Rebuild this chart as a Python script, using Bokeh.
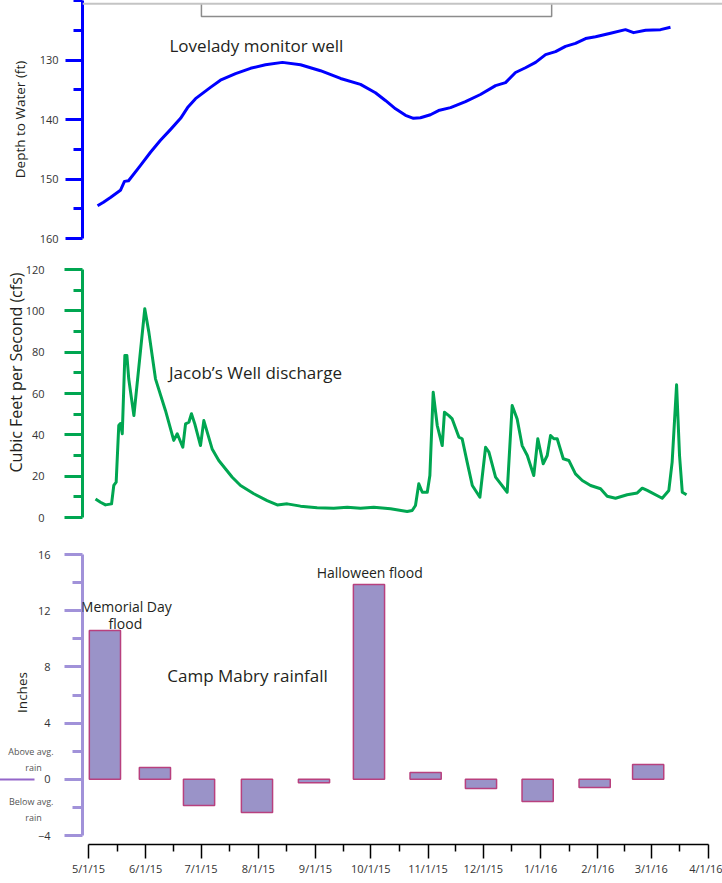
import pandas as pd
from bokeh.plotting import figure
from bokeh.layouts import column
from bokeh.models import Range1d, FixedTicker, Label, ColumnDataSource, LinearAxis, Title, Span
from bokeh.embed import file_html
from bokeh.resources import INLINE

# ---------------- data ----------------
START = pd.Timestamp("2015-05-01")
month_dates = ["2015-05-01", "2015-06-01", "2015-07-01", "2015-08-01", "2015-09-01", "2015-10-01",
               "2015-11-01", "2015-12-01", "2016-01-01", "2016-02-01", "2016-03-01", "2016-04-01"]
month_labels = ["5/1/15", "6/1/15", "7/1/15", "8/1/15", "9/1/15", "10/1/15",
                "11/1/15", "12/1/15", "1/1/16", "2/1/16", "3/1/16", "4/1/16"]

# Lovelady monitor well: days since 5/1/15, depth to water (ft)
well_day = [4.9, 8.1, 11.9, 17.3, 19.5, 21.7, 28.2, 33.6, 39.0, 44.4,
            49.9, 53.7, 58.0, 66.1, 71.5, 79.7, 87.8, 95.9, 105.1, 114.9,
            125.7, 136.6, 147.4, 155.5, 160.9, 166.4, 171.8, 176.1, 179.9, 185.3,
            189.7, 196.2, 204.3, 212.4, 220.6, 226.0, 231.4, 236.8, 242.3, 247.7,
            253.1, 258.5, 263.9, 269.4, 274.8, 282.9, 291.0, 295.4, 301.9, 310.0, 315.4]
well_depth = [154.5, 153.9, 153.1, 151.9, 150.4, 150.3, 147.7, 145.5, 143.5, 141.7,
              139.8, 138.0, 136.5, 134.6, 133.4, 132.3, 131.4, 130.8, 130.4, 130.8,
              131.8, 133.1, 134.1, 135.5, 136.8, 138.2, 139.3, 139.8, 139.7, 139.2,
              138.5, 138.0, 137.0, 135.8, 134.3, 133.8, 132.1, 131.3, 130.4, 129.1,
              128.6, 127.7, 127.2, 126.4, 126.1, 125.5, 124.9, 125.4, 125.0, 124.9, 124.5]

# Jacob's Well discharge: days since 5/1/15, cfs
flow_day = [3.8, 6.5, 9.2, 12.5, 13.7, 15.0, 16.4, 17.3, 18.3, 19.7,
            20.8, 21.8, 24.6, 30.5, 32.7, 36.3, 41.7, 46.2, 48.1, 51.1,
            52.6, 54.4, 55.8, 57.6, 60.7, 62.5, 67.0, 70.6, 77.9, 82.4,
            89.6, 96.8, 102.3, 107.7, 114.9, 123.9, 132.9, 140.2, 147.4, 154.6,
            163.7, 172.7, 175.4, 177.2, 179.0, 180.9, 183.6, 185.0, 186.8, 189.0,
            191.7, 192.9, 195.3, 197.1, 200.7, 202.5, 205.2, 208.0, 212.1, 215.2,
            217.0, 220.6, 226.9, 229.6, 232.3, 235.0, 237.8, 241.3, 243.5, 246.4,
            248.6, 250.4, 252.2, 254.0, 257.3, 260.3, 263.9, 267.6, 272.1, 277.5,
            281.1, 285.6, 291.9, 297.4, 300.1, 302.8, 310.9, 314.5, 316.3, 318.7,
            320.3, 321.8, 324.1]
flow_cfs = [9.0, 7.4, 6.1, 6.6, 15.5, 17.1, 44.5, 45.5, 40.5, 78.4,
            78.4, 67.1, 49.3, 101.0, 89.7, 67.1, 51.8, 37.3, 40.5, 34.0,
            45.3, 46.1, 50.2, 45.3, 34.8, 46.9, 33.2, 27.6, 19.5, 15.5,
            11.5, 8.2, 6.1, 6.6, 5.5, 4.7, 4.5, 5.0, 4.5, 5.0,
            4.2, 2.9, 3.4, 5.8, 16.3, 12.2, 12.2, 20.3, 60.6, 44.5,
            34.8, 50.9, 49.3, 47.7, 38.9, 38.1, 26.8, 15.5, 9.8, 34.0,
            31.6, 19.5, 12.2, 54.2, 47.7, 34.8, 30.0, 20.3, 38.1, 26.0,
            30.0, 39.7, 38.1, 38.1, 28.4, 27.6, 21.1, 17.9, 15.5, 13.9,
            10.3, 9.3, 11.0, 11.9, 14.2, 13.1, 9.3, 13.1, 26.8, 64.2,
            30.0, 12.2, 11.0]

# Camp Mabry monthly rainfall departure from average (inches)
rain_month = ["May", "Jun", "Jul", "Aug", "Sep", "Oct", "Nov", "Dec", "Jan", "Feb", "Mar"]
rain_day = [8.9, 36.0, 59.9, 91.3, 122.2, 152.0, 182.7, 212.7, 243.4, 274.3, 303.3]
rain_anomaly = [10.59, 0.84, -1.86, -2.36, -0.25, 13.86, 0.48, -0.65, -1.58, -0.58, 1.05]

# ---------------- layout helpers ----------------
month_day = [(pd.Timestamp(d) - START).days for d in month_dates]
mid_day = [(a + b) / 2 for a, b in zip(month_day[:-1], month_day[1:])]

PX_PER_DAY = 620 / 336.0
X0_PAGE = 88.0
RIGHT_PAGE = 722.0
FRAME_LEFT = 82
W = 722
FONT = "Open Sans"
TXT = "#231f20"


def xr():
    return Range1d((FRAME_LEFT - X0_PAGE) / PX_PER_DAY, (RIGHT_PAGE - X0_PAGE) / PX_PER_DAY)


def base(fig):
    fig.xgrid.visible = False
    fig.ygrid.visible = False
    fig.outline_line_color = None
    fig.background_fill_color = "white"
    fig.border_fill_color = "white"


def style_y(ax, color, tick_out, minor_out, standoff, label_standoff):
    ax.axis_line_color = color
    ax.axis_line_width = 3
    ax.major_tick_line_color = color
    ax.major_tick_line_width = 3
    ax.minor_tick_line_color = color
    ax.minor_tick_line_width = 3
    ax.major_tick_in = 0
    ax.minor_tick_in = 0
    ax.major_tick_out = tick_out
    ax.minor_tick_out = minor_out
    ax.major_label_standoff = standoff
    ax.major_label_text_font = FONT
    ax.major_label_text_font_size = "11px"
    ax.major_label_text_color = "#333333"
    ax.axis_label_standoff = label_standoff
    ax.axis_label_text_font = FONT
    ax.axis_label_text_font_size = "13.5px"
    ax.axis_label_text_font_style = "normal"
    ax.axis_label_text_color = TXT


def note(fig, x, y, text, size):
    fig.add_layout(Label(x=x, y=y, text=text, text_align="center", text_baseline="middle",
                         text_font=FONT, text_font_size=size, text_color=TXT))


# ---------------- top: Lovelady monitor well ----------------
k1 = 5.95  # px per ft
p1 = figure(width=W, height=255, x_range=xr(), y_range=Range1d(160, 160 - 238 / k1),
            x_axis_location=None, toolbar_location=None, output_backend="svg",
            min_border_left=FRAME_LEFT, min_border_right=0, min_border_top=0, min_border_bottom=17)
base(p1)
ax1 = p1.yaxis[0]
ax1.ticker = FixedTicker(ticks=[130, 140, 150, 160], minor_ticks=[120, 125, 135, 145, 155])
ax1.axis_label = "Depth to Water (ft)"
style_y(ax1, "#0000ff", 17, 9, 7, 8)

p1.add_layout(Span(location=120 + 3.3 / k1, dimension="width", line_color="#c4c4c4", line_width=2))
bracket_x = [61.2, 61.2, 251.0, 251.0]
bracket_y = [120.5, 122.7, 122.7, 120.5]
p1.line(bracket_x, bracket_y, line_color="#8c8c8c", line_width=1.5)
p1.line(well_day, well_depth, line_color="#0000ff", line_width=3, line_join="round")
note(p1, 91, 127.6, "Lovelady monitor well", "17px")

# ---------------- middle: Jacob's Well discharge ----------------
k2 = 248 / 120.0  # px per cfs
p2 = figure(width=W, height=285, x_range=xr(), y_range=Range1d(-23 / k2, 120 + 14 / k2),
            x_axis_location=None, toolbar_location=None, output_backend="svg",
            min_border_left=FRAME_LEFT, min_border_right=0, min_border_top=0, min_border_bottom=0)
base(p2)
ax2 = p2.yaxis[0]
ax2.ticker = FixedTicker(ticks=[0, 20, 40, 60, 80, 100, 120], minor_ticks=[10, 30, 50, 70, 90, 110])
ax2.bounds = (0, 120)
style_y(ax2, "#00a651", 18, 9, 20, 0)
p2.add_layout(Title(text="Cubic Feet per Second (cfs)", align="right", offset=17, standoff=-8,
                    text_font=FONT, text_font_size="16px", text_font_style="normal",
                    text_color=TXT), "left")
p2.line(flow_day, flow_cfs, line_color="#00a651", line_width=3, line_join="round")
note(p2, 90.5, 70.1, "Jacob\u2019s Well discharge", "17px")

# ---------------- bottom: Camp Mabry rainfall ----------------
k3 = 14.05  # px per inch
PURPLE = "#a192d9"
p3 = figure(width=W, height=343, x_range=xr(), y_range=Range1d(-4 - 9 / k3, 16 + 14 / k3),
            toolbar_location=None, output_backend="svg",
            min_border_left=FRAME_LEFT, min_border_right=0, min_border_top=0, min_border_bottom=39)
base(p3)
ax3 = p3.yaxis[0]
ax3.ticker = FixedTicker(ticks=[-4, 0, 4, 8, 12, 16], minor_ticks=[-2, 2, 6, 10, 14])
ax3.bounds = (-4, 16)
style_y(ax3, PURPLE, 18, 10, 14, 0)

# outer left axis: notes on above/below average rain, zero marker and the "Inches" title
note_y = [1.41, -2.15]
note_text = ["Above avg.\nrain\u00a0\u00a0\u00a0\u00a0\u00a0", "Below avg.\nrain\u00a0\u00a0\u00a0\u00a0\u00a0"]
ax3b = LinearAxis(ticker=FixedTicker(ticks=note_y, minor_ticks=[0]))
ax3b.major_label_overrides = {v: t for v, t in zip(note_y, note_text)}
ax3b.axis_line_color = None
ax3b.major_tick_line_color = None
ax3b.major_tick_in = 0
ax3b.major_tick_out = 0
ax3b.minor_tick_in = 0
ax3b.minor_tick_out = 35
ax3b.minor_tick_line_color = "#9466c9"
ax3b.minor_tick_line_width = 2
ax3b.major_label_standoff = -54
ax3b.major_label_text_font = FONT
ax3b.major_label_text_font_size = "9px"
ax3b.major_label_text_color = "#555555"
ax3b.axis_label = "Inches"
ax3b.axis_label_standoff = -26
ax3b.axis_label_text_font = FONT
ax3b.axis_label_text_font_size = "13.5px"
ax3b.axis_label_text_font_style = "normal"
ax3b.axis_label_text_color = TXT
p3.add_layout(ax3b, "left")

xa = p3.xaxis[0]
xa.ticker = FixedTicker(ticks=month_day, minor_ticks=mid_day)
xa.major_label_overrides = {d: lab for d, lab in zip(month_day, month_labels)}
xa.bounds = (month_day[0], month_day[-1])
xa.axis_line_color = "#000000"
xa.axis_line_width = 1.5
xa.major_tick_line_color = "#000000"
xa.major_tick_line_width = 1.5
xa.minor_tick_line_color = "#000000"
xa.minor_tick_line_width = 1.5
xa.major_tick_in = 0
xa.minor_tick_in = 0
xa.major_tick_out = 14
xa.minor_tick_out = 7
xa.major_label_standoff = 2
xa.major_label_text_font = FONT
xa.major_label_text_font_size = "11px"
xa.major_label_text_color = "#333333"

src = ColumnDataSource(dict(day=rain_day, anomaly=rain_anomaly, month=rain_month))
p3.vbar(x="day", width=16.9, top="anomaly", bottom=0, source=src,
        fill_color="#9a93c8", line_color="#b8407e", line_width=1.5)

note(p3, 86.2, 7.38, "Camp Mabry rainfall", "17px")
note(p3, 20.5, 12.3, "Memorial Day", "14px")
note(p3, 20.0, 11.1, "flood", "14px")
note(p3, 152.4, 14.72, "Halloween flood", "14px")

layout = column(p1, p2, p3, spacing=0)
open("out.html", "w").write(file_html(layout, INLINE))
